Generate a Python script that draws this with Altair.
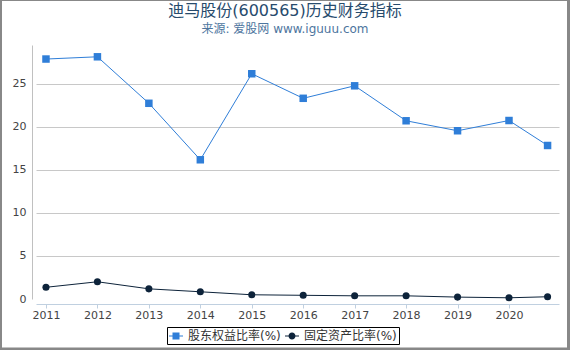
import altair as alt
import pandas as pd

# ---- data ----
years = [2011, 2012, 2013, 2014, 2015, 2016, 2017, 2018, 2019, 2020, 2020.75]
equity_ratio = [27.87, 28.13, 22.73, 16.17, 26.16, 23.31, 24.76, 20.70, 19.54, 20.73, 17.83]
fixed_asset_ratio = [1.36, 2.00, 1.18, 0.84, 0.49, 0.43, 0.37, 0.37, 0.22, 0.14, 0.26]
series_names = ["股东权益比率(%)", "固定资产比率(%)"]
tick_years = [2011, 2012, 2013, 2014, 2015, 2016, 2017, 2018, 2019, 2020]
y_ticks = [0, 5, 10, 15, 20, 25]
title_text = "迪马股份(600565)历史财务指标"
subtitle_text = "来源: 爱股网 www.iguuu.com"

colors = ["#2f7ed8", "#0d233a"]
FONT = "DejaVu Sans, Noto Sans CJK SC"

rows = []
for x, v in zip(years, equity_ratio):
    rows.append({"x": x, "v": v, "s": series_names[0]})
for x, v in zip(years, fixed_asset_ratio):
    rows.append({"x": x, "v": v, "s": series_names[1]})
df = pd.DataFrame(rows)

W, H = 523, 254
PL, PT = 36, 45

xenc = alt.X(
    "x:Q",
    scale=alt.Scale(domain=[2010.806, 2020.972], nice=False, zero=False),
    axis=alt.Axis(
        values=tick_years, format="d", title=None, grid=False,
        domainColor="#C0D0E0", tickColor="#C0D0E0", tickSize=4, offset=5,
        labelFont=FONT, labelFontSize=11, labelColor="#444", labelPadding=1,
    ),
)
yenc = alt.Y(
    "v:Q",
    scale=alt.Scale(domain=[0, 29.5], nice=False),
    axis=alt.Axis(
        values=y_ticks, title=None, ticks=False, offset=4,
        domainColor="#C0C0C0", labelFont=FONT, labelFontSize=11, labelColor="#444",
        labelPadding=6,
        gridColor={"condition": {"test": "datum.value === 0", "value": "transparent"}, "value": "#C8C8C8"},
    ),
)

base = alt.Chart(df)

line_a = base.transform_filter(alt.datum.s == series_names[0]).mark_line(
    color=colors[0], strokeWidth=1).encode(x=xenc, y=yenc)
pts_a = base.transform_filter(alt.datum.s == series_names[0]).mark_square(
    color=colors[0], size=56, opacity=1).encode(x=xenc, y=yenc)
line_b = base.transform_filter(alt.datum.s == series_names[1]).mark_line(
    color=colors[1], strokeWidth=1).encode(x=xenc, y=yenc)
pts_b = base.transform_filter(alt.datum.s == series_names[1]).mark_circle(
    color=colors[1], size=50, opacity=1).encode(x=xenc, y=yenc)

sq_path = "M-1,-0.07H1V0.07H-1Z M-0.5,-0.5H0.5V0.5H-0.5Z"
ci_path = "M-1,-0.07H1V0.07H-1Z M0.5,0A0.5,0.5,0,1,1,-0.5,0A0.5,0.5,0,1,1,0.5,0Z"

leg = alt.Legend(
    title=None, orient="none", legendX=131, legendY=282, direction="horizontal",
    columns=2, padding=2, strokeColor="#000000", fillColor="#ffffff",
    symbolSize=196, symbolStrokeWidth=0, labelFont=FONT, labelFontSize=12,
    labelColor="#333", labelOffset=5, columnPadding=4, labelLimit=300,
)
legend_layer = base.transform_filter("false").mark_point(filled=True, opacity=1).encode(
    color=alt.Color("s:N", scale=alt.Scale(domain=series_names, range=colors), legend=leg),
    shape=alt.Shape("s:N", scale=alt.Scale(domain=series_names, range=[sq_path, ci_path]), legend=leg),
)

one = pd.DataFrame({"k": [0]})
fb = alt.Chart(one)
frame = [
    fb.mark_rect(color="#888888").encode(x=alt.value(-PL), x2=alt.value(-PL + 2), y=alt.value(-PT), y2=alt.value(350 - PT)),
    fb.mark_rect(color="#888888").encode(x=alt.value(-PL), x2=alt.value(570 - PL), y=alt.value(-PT), y2=alt.value(-PT + 1)),
    fb.mark_rect(color="#888888").encode(x=alt.value(567 - PL), x2=alt.value(570 - PL), y=alt.value(-PT), y2=alt.value(350 - PT)),
    fb.mark_rect(color="#888888").encode(x=alt.value(-PL), x2=alt.value(570 - PL), y=alt.value(347.5 - PT), y2=alt.value(350 - PT)),
]

title_layer = fb.mark_text(
    text=title_text, font=FONT, fontSize=16, color="#274b6d", align="center", baseline="middle"
).encode(x=alt.value(285 - PL), y=alt.value(11 - PT))
subtitle_layer = fb.mark_text(
    text=subtitle_text, font=FONT, fontSize=12, color="#4d759e", align="center", baseline="middle"
).encode(x=alt.value(285 - PL), y=alt.value(28.5 - PT))

chart = alt.layer(
    line_b, pts_b, line_a, pts_a, legend_layer, *frame, title_layer, subtitle_layer
).properties(
    width=W, height=H,
    autosize=alt.AutoSizeParams(type="none"),
    padding={"left": PL, "top": PT, "right": 570 - PL - W, "bottom": 350 - PT - H},
    background="white",
).configure_view(stroke=None)

chart.save("out.html", embed_options={"renderer": "svg", "actions": False})
